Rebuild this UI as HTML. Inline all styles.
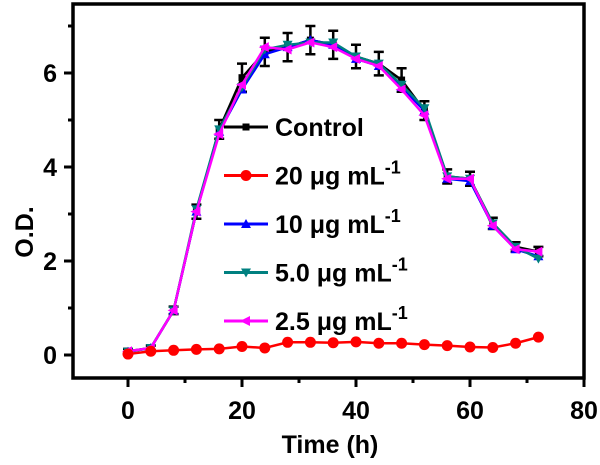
<!DOCTYPE html><html><head><meta charset="utf-8"><style>body{margin:0;background:#fff}svg{display:block;font-family:"Liberation Sans",sans-serif;font-weight:bold}</style></head><body>
<svg width="600" height="465" id="c">
<rect x="73" y="4" width="511" height="374" fill="none" stroke="#000" stroke-width="3.5"/>
<text transform="translate(33,232) rotate(-90)" text-anchor="middle" font-size="25">O.D.</text>
<text x="330" y="453" text-anchor="middle" font-size="25">Time (h)</text>
<g id="ax"></g><g id="series"></g><g id="legend"></g>
</svg>
<script>
const times=[0,4,8,12,16,20,24,28,32,36,40,44,48,52,56,60,64,68,72];
const control=[0.08,0.15,0.95,3.05,4.8,5.9,6.45,6.55,6.7,6.6,6.35,6.2,5.85,5.2,3.8,3.75,2.8,2.3,2.2];
const controlErr=[0.05,0.05,0.08,0.15,0.2,0.3,0.3,0.3,0.3,0.3,0.25,0.25,0.25,0.2,0.15,0.15,0.12,0.1,0.1];
const c20=[0.02,0.08,0.1,0.12,0.13,0.18,0.15,0.27,0.27,0.26,0.28,0.25,0.25,0.22,0.2,0.17,0.16,0.25,0.38];
const c10=[0.07,0.15,0.95,3.05,4.75,5.65,6.4,6.55,6.7,6.6,6.3,6.15,5.7,5.2,3.75,3.7,2.75,2.25,2.1];
const c5=[0.07,0.15,0.95,3.1,4.8,5.7,6.5,6.6,6.65,6.65,6.35,6.2,5.75,5.25,3.8,3.75,2.8,2.3,2.05];
const c25=[0.08,0.15,0.95,3.05,4.7,5.75,6.55,6.5,6.65,6.55,6.3,6.15,5.65,5.1,3.75,3.75,2.75,2.25,2.2];
const xTicks=[0,20,40,60,80];
const yTicks=[0,2,4,6];
const labels=["Control","20 μg mL","10 μg mL","5.0 μg mL","2.5 μg mL"];
const NS="http://www.w3.org/2000/svg";
const X=v=>128+(v)*5.7, Y=v=>355-v*47;
function mk(p,t,a){const e=document.createElementNS(NS,t);for(const k in a)e.setAttribute(k,a[k]);p.appendChild(e);return e;}
const ax=document.getElementById('ax');
xTicks.forEach(t=>{const l=mk(ax,'line',{x1:X(t),x2:X(t),y1:378,y2:387,stroke:'#000','stroke-width':3});


const s=mk(ax,'text',{x:X(t),y:419,'text-anchor':'middle','font-size':25});s.textContent=t;


if(t<80){const m=mk(ax,'line',{x1:X(t+10),x2:X(t+10),y1:378,y2:383,stroke:'#000','stroke-width':3});

}});
yTicks.forEach(t=>{const l=mk(ax,'line',{x1:64,x2:73,y1:Y(t),y2:Y(t),stroke:'#000','stroke-width':3});


const m=mk(ax,'line',{x1:68,x2:73,y1:Y(t+1),y2:Y(t+1),stroke:'#000','stroke-width':3});


const s=mk(ax,'text',{x:57,y:Y(t)+9,'text-anchor':'end','font-size':25});s.textContent=t;

});
const sg=document.getElementById('series');
function marker(g,type,x,y,col){let e;
if(type==='sq')e=mk(g,'rect',{x:x-3.5,y:y-3.5,width:7,height:7,fill:col});
else if(type==='ci')e=mk(g,'circle',{cx:x,cy:y,r:5.5,fill:col});
else if(type==='up')e=mk(g,'polygon',{points:`${x},${y-5} ${x-5},${y+4} ${x+5},${y+4}`,fill:col});
else if(type==='dn')e=mk(g,'polygon',{points:`${x},${y+5} ${x-5},${y-4} ${x+5},${y-4}`,fill:col});
else e=mk(g,'polygon',{points:`${x-6},${y} ${x+4},${y-5} ${x+4},${y+5}`,fill:col});

}
const defs=[[control,'#000','sq'],[c20,'#f00','ci'],[c10,'#00f','up'],[c5,'#008080','dn'],[c25,'#f0f','lt']];
const eb=mk(sg,'g',{});


times.forEach((t,i)=>{const x=X(t),a=Y(control[i]+controlErr[i]),b=Y(control[i]-controlErr[i]);
mk(eb,'path',{d:`M${x},${a}V${b}M${x-5},${a}h10M${x-5},${b}h10`,stroke:'#000','stroke-width':2.5,fill:'none'});});
const order=[0,2,3,4,1];
order.forEach(k=>{const [d,col,m]=defs[k];const g=mk(sg,'g',{});


mk(g,'polyline',{points:times.map((t,i)=>X(t)+','+Y(d[i])).join(' '),fill:'none',stroke:col,'stroke-width':2.5});
times.forEach((t,i)=>marker(g,m,X(t),Y(d[i]),col));});
const lg=document.getElementById('legend');
defs.forEach(([d,col,m],i)=>{const y=127+i*48.5;const g=mk(lg,'g',{});


mk(g,'line',{x1:224,x2:268,y1:y,y2:y,stroke:col,'stroke-width':3});marker(g,m,246,y,col);
const t=mk(g,'text',{x:275,y:y+9,'font-size':25});t.textContent=labels[i];
if(i>0){const s=mk(t,'tspan',{dy:-11,'font-size':18});s.textContent='-1';}});
</script></body></html>
